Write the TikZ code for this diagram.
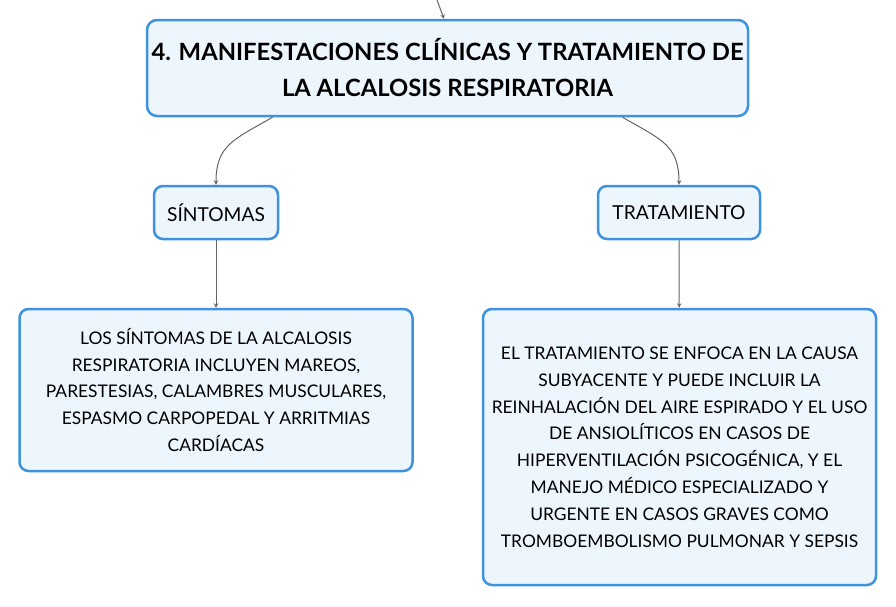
\documentclass[tikz,border=0pt]{standalone}
\usepackage{fontspec}
\setmainfont{Lato}
\usepackage{xcolor}
\usepackage{tikz}
\usetikzlibrary{arrows, positioning, calc}
\definecolor{boxblue}{RGB}{62,146,222}
\definecolor{boxfill}{RGB}{238,246,253}
\definecolor{linegray}{RGB}{100,100,100}
\tikzstyle{maintopic} = [rectangle, rounded corners=10pt, minimum width=601pt, minimum height=96pt, text centered, align=center, draw=boxblue, line width=2.5pt, fill=boxfill, font=\fontsize{23.8}{36}\selectfont\bfseries]
\tikzstyle{subtopic} = [rectangle, rounded corners=9pt, minimum height=53pt, inner xsep=4pt, text centered, draw=boxblue, line width=2.5pt, fill=boxfill, font=\fontsize{19.2}{20}\selectfont]
\tikzstyle{detail} = [rectangle, rounded corners=9pt, minimum width=393pt, text centered, align=center, draw=boxblue, line width=2.5pt, fill=boxfill, font=\fontsize{17.4}{26.8}\selectfont]
\tikzstyle{arrow} = [->,>=stealth, line width=1pt, draw=linegray]

\begin{document}
\begin{tikzpicture}[x=1pt, y=-1pt]
  \useasboundingbox (0,0) rectangle (896,606);
  \coordinate (parent) at (437,0);
  \node (title) [maintopic] at (447.5,68) {4. MANIFESTACIONES CLÍNICAS Y TRATAMIENTO DE\\LA ALCALOSIS RESPIRATORIA};
  \node (sintomas) [subtopic, minimum width=124pt] at (216,212.5) {SÍNTOMAS};
  \node (tratamiento) [subtopic, minimum width=162pt] at (679,212.5) {TRATAMIENTO};
  \node (sintdet) [detail, minimum height=162pt] at (216,390) {LOS SÍNTOMAS DE LA ALCALOSIS\\RESPIRATORIA INCLUYEN MAREOS,\\PARESTESIAS, CALAMBRES MUSCULARES,\\ESPASMO CARPOPEDAL Y ARRITMIAS\\CARDÍACAS};
  \node (tratdet) [detail, minimum height=276pt] at (679.5,447) {EL TRATAMIENTO SE ENFOCA EN LA CAUSA\\SUBYACENTE Y PUEDE INCLUIR LA\\REINHALACIÓN DEL AIRE ESPIRADO Y EL USO\\DE ANSIOLÍTICOS EN CASOS DE\\HIPERVENTILACIÓN PSICOGÉNICA, Y EL\\MANEJO MÉDICO ESPECIALIZADO Y\\URGENTE EN CASOS GRAVES COMO\\TROMBOEMBOLISMO PULMONAR Y SEPSIS};

  \draw[arrow] (parent) -- (title.north -| 444,0);
  \draw[arrow] ([xshift=-175pt]title.south) .. controls +(-38,22) and +(0,-40) .. (sintomas.north);
  \draw[arrow] ([xshift=175pt]title.south) .. controls +(38,22) and +(0,-40) .. (tratamiento.north);
  \draw[arrow] (sintomas) -- (sintdet);
  \draw[arrow] (tratamiento) -- (tratdet);
\end{tikzpicture}
\end{document}
